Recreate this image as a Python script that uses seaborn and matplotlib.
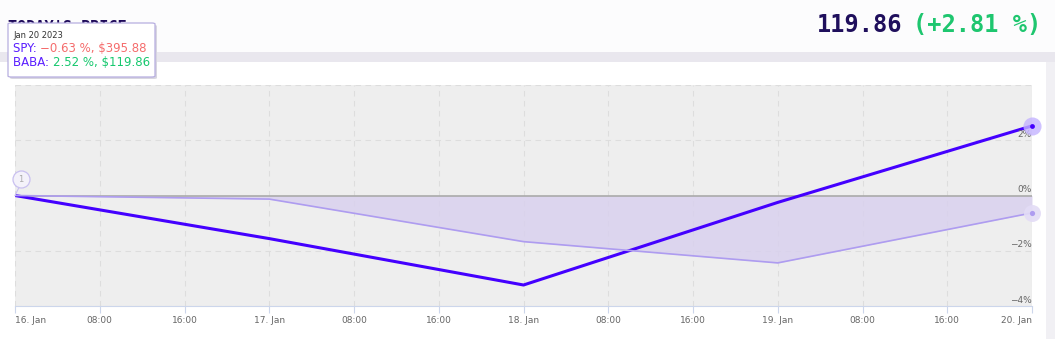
import matplotlib
matplotlib.use("Agg")
import matplotlib.pyplot as plt
import matplotlib.patches as mpatches
import matplotlib.transforms as mtrans
import seaborn as sns
import pandas as pd
import numpy as np

# ---- data ----
day_labels = ["16. Jan", "17. Jan", "18. Jan", "19. Jan", "20. Jan"]
hours = [0, 24, 48, 72, 96]
baba_pct = [0.0, -1.56, -3.24, -0.25, 2.52]
spy_pct = [0.0, -0.13, -1.67, -2.44, -0.63]
tick_hours = list(range(0, 97, 8))
tick_labels = ["16. Jan", "08:00", "16:00", "17. Jan", "08:00", "16:00", "18. Jan",
               "08:00", "16:00", "19. Jan", "08:00", "16:00", "20. Jan"]
y_ticks = [-4, -2, 0, 2]
y_tick_labels = ["\u22124%", "\u22122%", "0%", "2%"]

df = pd.DataFrame({"hour": hours * 2,
                   "pct": baba_pct + spy_pct,
                   "ticker": ["BABA"] * 5 + ["SPY"] * 5})

W, H = 1055, 339
fig = plt.figure(figsize=(W / 100, H / 100), dpi=100)
fig.patch.set_facecolor("white")

def px_rect(x0, y0, x1, y1, color, z=0):
    r = mpatches.Rectangle((x0 / W, 1 - y1 / H), (x1 - x0) / W, (y1 - y0) / H,
                           transform=fig.transFigure, facecolor=color,
                           edgecolor="none", zorder=z)
    fig.patches.append(r)

px_rect(0, 0, W, 52, "#fcfcfd")
px_rect(0, 52, W, 62, "#e9e7ee")
px_rect(1046, 62, W, H, "#f1f0f4")

ax = fig.add_axes([15 / W, 33 / H, (1032 - 15) / W, 221 / H])
ax.set_facecolor("#eeeeee")

# fill SPY area
ax.fill_between(hours, spy_pct, 0, color="#d9d1ee", alpha=0.85, zorder=1, linewidth=0)
ax.axhline(0, color="#aaaaaa", lw=1.2, zorder=1.5)

sns.lineplot(data=df, x="hour", y="pct", hue="ticker",
             palette={"BABA": "#4400ff", "SPY": "#ae9cf0"},
             hue_order=["BABA", "SPY"], legend=False, ax=ax, zorder=3)
for line, lw in zip(ax.get_lines()[-2:], [2.2, 1.2]):
    line.set_linewidth(lw)

ax.set_xlim(0, 96)
ax.set_ylim(-4, 4)
ax.set_xticks(tick_hours)
ax.set_xticklabels(tick_labels, fontsize=6.5, color="#666666")
labs = ax.get_xticklabels()
for lab in labs:
    lab.set_horizontalalignment("center")
labs[0].set_horizontalalignment("left")
labs[-1].set_horizontalalignment("right")
ax.set_yticks([-4, -2, 2, 4])
ax.set_yticklabels([])
ax.tick_params(axis="y", length=0)
ax.tick_params(axis="x", length=5, color="#ccd6eb", pad=2, direction="out")
ax.grid(True, color="#dddddd", linestyle=(0, (5, 4)), lw=0.8)
ax.set_axisbelow(True)
for side in ["top", "right", "left"]:
    ax.spines[side].set_visible(False)
ax.spines["bottom"].set_color("#ccd6eb")
ax.set_xlabel("")
ax.set_ylabel("")

trans = mtrans.blended_transform_factory(ax.transAxes, ax.transData)
for v, lab in zip(y_ticks, y_tick_labels):
    ax.text(0.9995, v + 0.05, lab, transform=trans, ha="right", va="bottom",
            fontsize=6.5, color="#666666")

# end markers
ax.scatter([96], [baba_pct[-1]], s=170, color="#c4b3ff", alpha=0.8, zorder=4, clip_on=False, linewidths=0)
ax.scatter([96], [baba_pct[-1]], s=12, color="#4400ff", zorder=5, clip_on=False, linewidths=0)
ax.scatter([96], [spy_pct[-1]], s=150, color="#e3dcf6", alpha=0.9, zorder=4, clip_on=False, linewidths=0)
ax.scatter([96], [spy_pct[-1]], s=14, color="#ae9cf0", zorder=5, clip_on=False, linewidths=0)

# flag "1"
ax.plot([0, 0.45], [0, 0.35], color="#c9c0f0", lw=0.8, zorder=4, clip_on=False)
ax.scatter([0.57], [0.58], s=150, facecolor="#f4f2fa", edgecolor="#c9c0f0", lw=0.9, zorder=5, clip_on=False)
ax.text(0.57, 0.58, "1", ha="center", va="center", fontsize=6, color="#aaaaaa", zorder=6)

# header texts
fig.text(8 / W, 1 - 27 / H, "TODAY'S PRICE:", fontsize=11, fontweight="bold",
         color="#1e0a5a", va="center", ha="left", family="DejaVu Sans Mono")
fig.text(817 / W, 1 - 25 / H, "119.86", fontsize=17, fontweight="bold",
         color="#1f0f5c", va="center", ha="left", family="DejaVu Sans Mono")
fig.text(913 / W, 1 - 25 / H, "(+2.81 %)", fontsize=17, fontweight="bold",
         color="#1ec66f", va="center", ha="left", family="DejaVu Sans Mono")

# tooltip
shadow = mpatches.FancyBboxPatch((10 / W, 1 - 79 / H), 147 / W, 54 / H,
                                 boxstyle="round,pad=0,rounding_size=0.003",
                                 transform=fig.transFigure, facecolor="#d8d6e0",
                                 edgecolor="none", zorder=9)
fig.patches.append(shadow)
box = mpatches.FancyBboxPatch((8 / W, 1 - 77 / H), 147 / W, 54 / H,
                              boxstyle="round,pad=0,rounding_size=0.003",
                              transform=fig.transFigure, facecolor="white",
                              edgecolor="#b7aee0", lw=0.9, zorder=10)
fig.patches.append(box)
fig.text(13 / W, 1 - 35 / H, "Jan 20 2023", fontsize=6, color="#333333",
         va="center", zorder=11)

def multi(x, y, parts, fs=8.5):
    renderer = fig.canvas.get_renderer()
    for txt, col in parts:
        t = fig.text(x / W, 1 - y / H, txt, fontsize=fs, color=col, va="center",
                     zorder=11, family="DejaVu Sans")
        bb = t.get_window_extent(renderer=renderer)
        x += bb.width

multi(13, 48, [("SPY: ", "#5a1eff"), ("\u22120.63 %, $395.88", "#f56c6c")])
multi(13, 63, [("BABA: ", "#5a1eff"), ("2.52 %, $119.86", "#16c86e")])

fig.savefig("out.png", dpi=100)
